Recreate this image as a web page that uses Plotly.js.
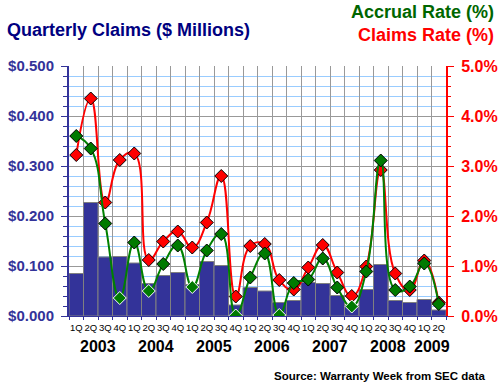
<!DOCTYPE html>
<html>
<head>
<meta charset="utf-8">
<script src="https://cdn.plot.ly/plotly-3.0.1.min.js"></script>
<style>html,body{margin:0;padding:0;background:#fff;}#chart{width:500px;height:387px;}</style>
</head>
<body>
<div id="chart"></div>
<script>
const years = ['2003','2004','2005','2006','2007','2008','2009'];
const quarterLabels = ['1Q','2Q','3Q','4Q'];
// Quarterly claims ($ millions)
const claims = [0.085,0.227,0.118,0.119, 0.106,0.065,0.081,0.087, 0.063,0.109,0.101,0.022,
                0.057,0.050,0.027,0.031, 0.067,0.065,0.041,0.021, 0.053,0.103,0.031,0.027,
                0.033,0.012];
// Claims rate (%)
const claimsRate = [3.22,4.35,2.27,3.12, 3.25,1.12,1.49,1.69, 1.37,1.87,2.80,0.39,
                    1.40,1.44,0.72,0.53, 0.97,1.42,0.87,0.40, 0.99,2.92,0.85,0.52,
                    1.11,0.27];
// Accrual rate (%)
const accrualRate = [3.60,3.35,1.85,0.36, 1.47,0.50,1.04,1.41, 0.58,1.31,1.64,0.01,
                     0.77,1.25,0.02,0.66, 0.73,1.15,0.57,0.19, 0.89,3.11,0.52,0.59,
                     1.05,0.24];

const cats = [], ticktext = [], yearIdx = {};
for (let i = 0; i < claims.length; i++) {
  const y = years[Math.floor(i / 4)], q = quarterLabels[i % 4];
  cats.push(q + ' ' + y);
  ticktext.push(q);
  (yearIdx[y] = yearIdx[y] || []).push(i);
}

const FONT = 'Liberation Sans, Arial, sans-serif';
const BARC = '#333399';
// marker outline: white where the marker sits over a dark bar
const outline = arr => arr.map((v, i) => v < claims[i] * 10 ? '#ffffff' : '#000000');

const traces = [
  {type:'bar', x:cats, y:claims, marker:{color:BARC, line:{color:'#808080', width:1}},
   hoverinfo:'skip'},
  {type:'scatter', mode:'lines+markers', x:cats, y:claimsRate, yaxis:'y2',
   line:{color:'#ff0000', width:2, shape:'spline', smoothing:1.3},
   marker:{symbol:'diamond', size:10, color:'#ff0000', line:{color:outline(claimsRate), width:1}}},
  {type:'scatter', mode:'lines+markers', x:cats, y:accrualRate, yaxis:'y2',
   line:{color:'#008000', width:2, shape:'spline', smoothing:1.3},
   marker:{symbol:'diamond', size:10, color:'#007a00', line:{color:outline(accrualRate), width:1}}}
];

const px = p => (p - 69) / 377;
const py = p => (316 - p) / 250;

const annotations = [
  {text:'Quarterly Claims ($ Millions)', xref:'paper', yref:'paper', x:px(5), y:py(30),
   xanchor:'left', yanchor:'middle', showarrow:false,
   font:{family:FONT, size:18, color:'#000080', weight:'bold'}},
  {text:'Accrual Rate (%)', xref:'paper', yref:'paper', x:px(496), y:py(12),
   xanchor:'right', yanchor:'middle', showarrow:false,
   font:{family:FONT, size:18, color:'#006600', weight:'bold'}},
  {text:'Claims Rate (%)', xref:'paper', yref:'paper', x:px(496), y:py(35),
   xanchor:'right', yanchor:'middle', showarrow:false,
   font:{family:FONT, size:18, color:'#ff0000', weight:'bold'}},
  {text:'Source: Warranty Week from SEC data', xref:'paper', yref:'paper', x:px(487), y:py(376),
   xanchor:'right', yanchor:'middle', showarrow:false,
   font:{family:FONT, size:11.5, color:'#000000', weight:'bold'}}
];
years.forEach(y => {
  const idx = yearIdx[y];
  if (!idx) return;
  const mid = idx.reduce((a, b) => a + b, 0) / idx.length;
  annotations.push({text:y, xref:'x', yref:'paper', x:mid, y:py(346), xanchor:'center',
    yanchor:'middle', showarrow:false, font:{family:FONT, size:16, color:'#000000', weight:'bold'}});
});

const layout = {
  width:500, height:387,
  margin:{l:69, r:54, t:66, b:71, pad:0},
  paper_bgcolor:'#ffffff', plot_bgcolor:'#ffffff',
  showlegend:false, bargap:0,
  font:{family:FONT},
  xaxis:{type:'category', range:[-0.5, claims.length - 0.5], tickson:'boundaries',
    tickmode:'array', tickvals:cats, ticktext:ticktext, tickangle:0,
    showgrid:true, gridcolor:'#999999', gridwidth:1,
    ticks:'outside', ticklen:3, tickcolor:BARC,
    showline:true, linecolor:BARC, linewidth:1,
    tickfont:{family:FONT, size:9.5, color:'#000000'}, ticklabelstandoff:3, fixedrange:true},
  yaxis:{range:[0, 0.5], dtick:0.1, tickformat:'$.3f',
    showgrid:true, gridcolor:'#999999', gridwidth:1, zeroline:false,
    ticks:'outside', ticklen:6, tickcolor:BARC,
    showline:true, linecolor:BARC, linewidth:2,
    minor:{dtick:0.02, showgrid:true, gridcolor:'#99ccff', gridwidth:1,
           ticks:'outside', ticklen:4, tickcolor:BARC},
    tickfont:{family:FONT, size:15, color:BARC, weight:'bold'}, ticklabelstandoff:4},
  yaxis2:{overlaying:'y', side:'right', range:[0, 5], dtick:1, tickformat:'.1f', ticksuffix:'%',
    showgrid:false, zeroline:false,
    ticks:'outside', ticklen:6, tickcolor:'#ff0000',
    showline:true, linecolor:'#ff0000', linewidth:2,
    minor:{dtick:0.2, ticks:'outside', ticklen:3, tickcolor:'#ff0000', showgrid:false},
    tickfont:{family:FONT, size:16, color:'#ff0000', weight:'bold'}, ticklabelstandoff:4},
  annotations:annotations
};

Plotly.newPlot('chart', traces, layout, {staticPlot:true, displayModeBar:false});
</script>
</body>
</html>
